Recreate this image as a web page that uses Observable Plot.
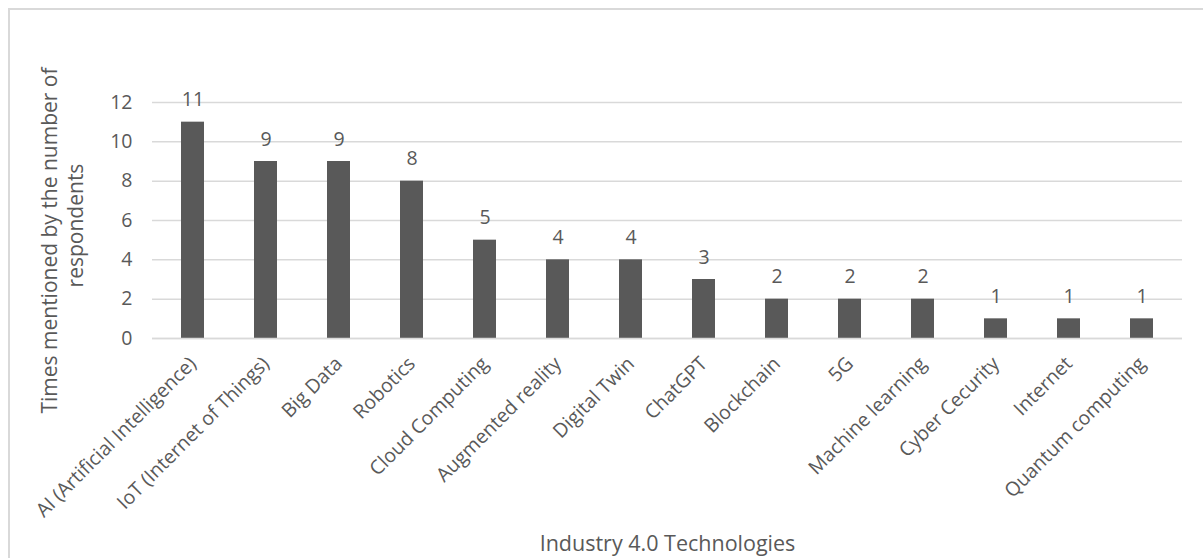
<!DOCTYPE html>
<html>
<head>
<meta charset="utf-8">
<script src="https://cdn.jsdelivr.net/npm/d3@7"></script>
<script src="https://cdn.jsdelivr.net/npm/@observablehq/plot@0.6"></script>
<style>
  html, body { margin: 0; padding: 0; background: #fff; overflow: hidden; }
  #frame { position: absolute; left: 8px; top: 8px; width: 1300px; height: 700px;
           border-top: 2px solid #d9d9d9; border-left: 2px solid #d9d9d9; box-sizing: border-box; }
  #chart { position: absolute; left: 0; top: 0; }
</style>
</head>
<body>
<div id="frame"></div>
<div id="chart"></div>
<script>
const categories = [
  "AI (Artificial Intelligence)", "IoT (Internet of Things)", "Big Data", "Robotics",
  "Cloud Computing", "Augmented reality", "Digital Twin", "ChatGPT", "Blockchain",
  "5G", "Machine learning", "Cyber Cecurity", "Internet", "Quantum computing"
];
const counts = [11, 9, 9, 8, 5, 4, 4, 3, 2, 2, 2, 1, 1, 1];
const yTicks = [0, 2, 4, 6, 8, 10, 12];
const yTitleLines = ["Times mentioned by the number of", "respondents"];
const xTitle = "Industry 4.0 Technologies";

const data = categories.map((c, i) => ({category: c, value: counts[i]}));
const font = "'Open Sans', sans-serif";
const gray = "#595959";

const chart = Plot.plot({
  width: 1203,
  height: 558,
  marginLeft: 152,
  marginRight: 21,
  marginTop: 102,
  marginBottom: 220,
  style: {fontFamily: font, background: "transparent", overflow: "visible"},
  x: {domain: categories, paddingInner: 0.68, paddingOuter: 0.34},
  y: {domain: [0, 12]},
  marks: [
    Plot.gridY(yTicks, {stroke: "#d9d9d9", strokeOpacity: 1, strokeWidth: 1.5}),
    Plot.axisY(yTicks, {tickSize: 0, tickPadding: 20, fontSize: 19.5, fill: gray, label: null}),
    Plot.axisX({tickSize: 0, tickPadding: 22, tickRotate: -45, fontSize: 19.5, fill: gray, label: null}),
    Plot.barY(data, {x: "category", y: "value", fill: gray}),
    Plot.ruleY([0], {stroke: "#d9d9d9", strokeWidth: 1.5}),
    Plot.text(data, {x: "category", y: "value", text: d => String(d.value), dy: -16,
      lineAnchor: "bottom", fontSize: 19.5, fill: gray}),
    Plot.text([yTitleLines[0]], {frameAnchor: "top-left", dx: -102, dy: 138, rotate: -90,
      textAnchor: "middle", lineAnchor: "middle", fontSize: 21, fill: gray, text: d => d}),
    Plot.text([yTitleLines[1]], {frameAnchor: "top-left", dx: -76, dy: 123, rotate: -90,
      textAnchor: "middle", lineAnchor: "middle", fontSize: 21, fill: gray, text: d => d}),
    Plot.text([xTitle], {frameAnchor: "bottom", dy: 212, lineAnchor: "bottom",
      fontSize: 21.5, fill: gray, text: d => d})
  ]
});
document.getElementById("chart").appendChild(chart);
</script>
</body>
</html>
